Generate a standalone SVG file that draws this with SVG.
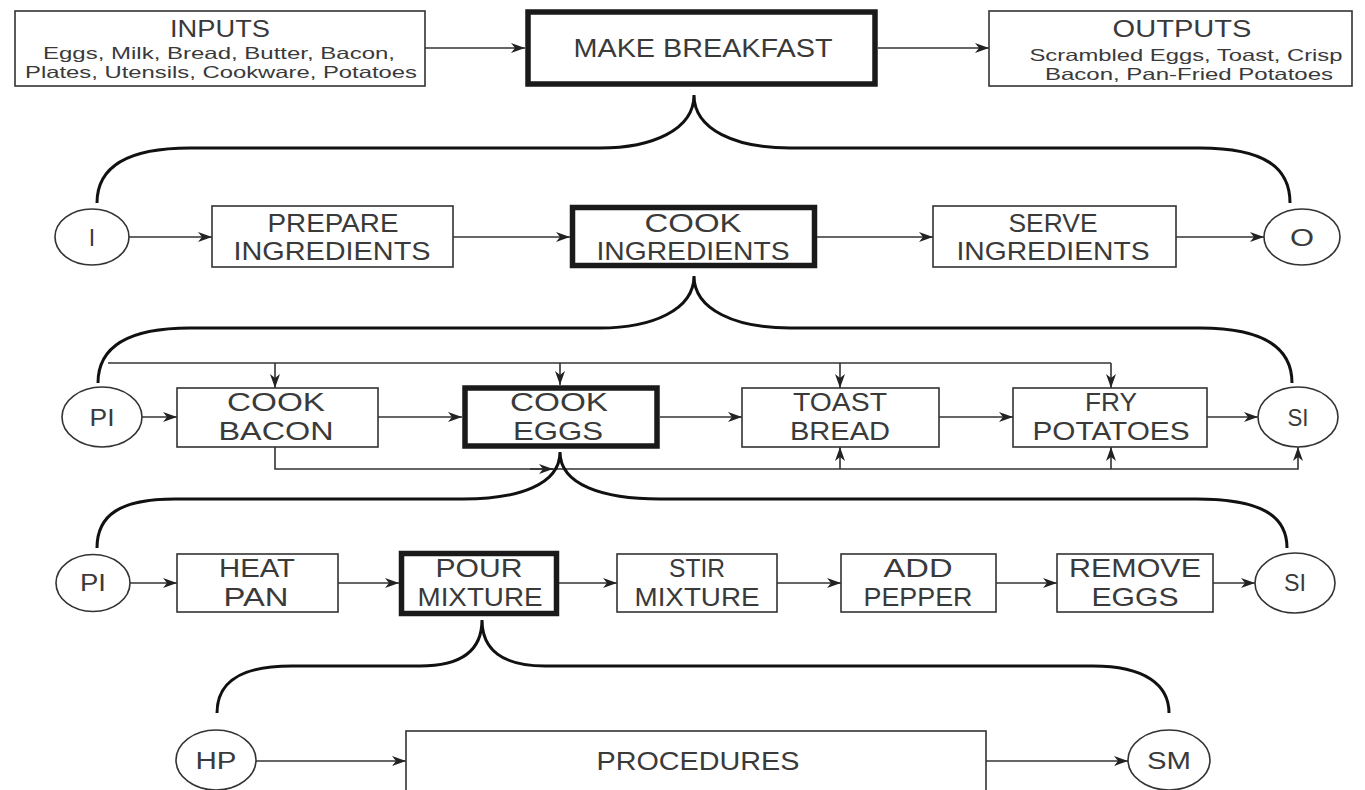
<svg xmlns="http://www.w3.org/2000/svg" width="1365" height="790" viewBox="0 0 1365 790">
<style>
  .bg{fill:#ffffff}
  .box{fill:#ffffff;stroke:#333;stroke-width:1.6}
  .thick{fill:#ffffff;stroke:#1a1a1a;stroke-width:5.5}
  .circ{fill:#ffffff;stroke:#333;stroke-width:1.6}
  .t{font-family:"Liberation Sans",Arial,sans-serif;fill:#3a3a3a;text-anchor:middle}
  .lbl{font-size:25px}
  .big{font-size:26px}
  .hdr{font-size:24px}
  .sm{font-size:16.5px}
  .cl{font-size:23px}
  .ln{fill:none;stroke:#333;stroke-width:1.6}
  .br{fill:none;stroke:#111;stroke-width:3}
</style>
<defs>
  <marker id="ah" viewBox="0 0 14 10" refX="14" refY="5" markerWidth="15" markerHeight="10" markerUnits="userSpaceOnUse" orient="auto">
    <path d="M0,0 L14,5 L0,10 L4,5 Z" fill="#222"/>
  </marker>
</defs>
<rect class="bg" x="0" y="0" width="1365" height="790"/>

<g id="connectors">
  <path class="ln" d="M425,48 L525,48" marker-end="url(#ah)"/>
  <path class="ln" d="M878,48 L989,48" marker-end="url(#ah)"/>
  <path class="ln" d="M129,237 L212,237" marker-end="url(#ah)"/>
  <path class="ln" d="M453,237 L570,237" marker-end="url(#ah)"/>
  <path class="ln" d="M817,237 L933,237" marker-end="url(#ah)"/>
  <path class="ln" d="M1176,237 L1264,237" marker-end="url(#ah)"/>
  <path class="ln" d="M142,417 L177,417" marker-end="url(#ah)"/>
  <path class="ln" d="M378,417 L462,417" marker-end="url(#ah)"/>
  <path class="ln" d="M660,417 L742,417" marker-end="url(#ah)"/>
  <path class="ln" d="M939,417 L1013,417" marker-end="url(#ah)"/>
  <path class="ln" d="M1207,417 L1258,417" marker-end="url(#ah)"/>
  <path class="ln" d="M108,363 L1111,363"/>
  <path class="ln" d="M275,363 L275,388" marker-end="url(#ah)"/>
  <path class="ln" d="M560,363 L560,385" marker-end="url(#ah)"/>
  <path class="ln" d="M840,363 L840,388" marker-end="url(#ah)"/>
  <path class="ln" d="M1111,363 L1111,388" marker-end="url(#ah)"/>
  <path class="ln" d="M275,447 L275,469 L1298,469 L1298,447" marker-end="url(#ah)"/>
  <path class="ln" d="M530,469 L553,469" marker-end="url(#ah)"/>
  <path class="ln" d="M840,469 L840,447" marker-end="url(#ah)"/>
  <path class="ln" d="M1111,469 L1111,447" marker-end="url(#ah)"/>
  <path class="ln" d="M130,583 L177,583" marker-end="url(#ah)"/>
  <path class="ln" d="M338,583 L399,583" marker-end="url(#ah)"/>
  <path class="ln" d="M559,583 L617,583" marker-end="url(#ah)"/>
  <path class="ln" d="M777,583 L841,583" marker-end="url(#ah)"/>
  <path class="ln" d="M996,583 L1057,583" marker-end="url(#ah)"/>
  <path class="ln" d="M1213,583 L1255,583" marker-end="url(#ah)"/>
  <path class="ln" d="M256,761 L406,761" marker-end="url(#ah)"/>
  <path class="ln" d="M986,761 L1128,761" marker-end="url(#ah)"/>
  <path class="br" d="M97,203 C97,168 125,148 190,148 L600,148 C652,148 694,130 694,95 C694,130 736,148 790,148 L1200,148 C1265,148 1290,168 1290,203"/>
  <path class="br" d="M98,383 C98,348 125,328 190,328 L600,328 C652,328 694,310 694,276 C694,310 736,328 790,328 L1200,328 C1265,328 1292,348 1292,383"/>
  <path class="br" d="M97,548 C97,515 120,499 175,499 L463,499 C518,499 560,485 560,452 C560,485 603,499 660,499 L1196,499 C1260,499 1287,515 1287,548"/>
  <path class="br" d="M217,713 C217,682 240,666 292,666 L420,666 C462,666 482,650 482,620 C482,650 503,666 545,666 L1093,666 C1145,666 1169,685 1169,713"/>
</g>

<g id="inputs">
  <rect class="box" x="15" y="11" width="410" height="75"/>
  <text class="t hdr" x="220" y="37" textLength="100" lengthAdjust="spacingAndGlyphs">INPUTS</text>
  <text class="t sm" x="219" y="59" textLength="352" lengthAdjust="spacingAndGlyphs">Eggs, Milk, Bread, Butter, Bacon,</text>
  <text class="t sm" x="221" y="78" textLength="392" lengthAdjust="spacingAndGlyphs">Plates, Utensils, Cookware, Potatoes</text>
</g>
<g id="make-breakfast">
  <rect class="thick" x="528" y="12" width="347" height="72"/>
  <text class="t big" x="703" y="57" textLength="259" lengthAdjust="spacingAndGlyphs">MAKE BREAKFAST</text>
</g>
<g id="outputs">
  <rect class="box" x="989" y="11" width="363" height="75"/>
  <text class="t hdr" x="1182" y="37" textLength="139" lengthAdjust="spacingAndGlyphs">OUTPUTS</text>
  <text class="t sm" x="1186" y="61" textLength="313" lengthAdjust="spacingAndGlyphs">Scrambled Eggs, Toast, Crisp</text>
  <text class="t sm" x="1189" y="80" textLength="288" lengthAdjust="spacingAndGlyphs">Bacon, Pan-Fried Potatoes</text>
</g>

<g id="i-node">
  <ellipse class="circ" cx="92" cy="237" rx="37" ry="28"/>
  <text class="t cl" x="92" y="246">I</text>
</g>
<g id="prepare-ingredients">
  <rect class="box" x="212" y="206" width="241" height="61"/>
  <text class="t lbl" x="333" y="232" textLength="131" lengthAdjust="spacingAndGlyphs">PREPARE</text>
  <text class="t lbl" x="332" y="260" textLength="197" lengthAdjust="spacingAndGlyphs">INGREDIENTS</text>
</g>
<g id="cook-ingredients">
  <rect class="thick" x="572.5" y="207.5" width="242" height="58"/>
  <text class="t lbl" x="693" y="232" textLength="97" lengthAdjust="spacingAndGlyphs">COOK</text>
  <text class="t lbl" x="693" y="260" textLength="193" lengthAdjust="spacingAndGlyphs">INGREDIENTS</text>
</g>
<g id="serve-ingredients">
  <rect class="box" x="933" y="206" width="243" height="61"/>
  <text class="t lbl" x="1053" y="232" textLength="89" lengthAdjust="spacingAndGlyphs">SERVE</text>
  <text class="t lbl" x="1053" y="260" textLength="193" lengthAdjust="spacingAndGlyphs">INGREDIENTS</text>
</g>
<g id="o-node">
  <ellipse class="circ" cx="1302" cy="237" rx="38" ry="28"/>
  <text class="t cl" x="1302" y="246" textLength="24" lengthAdjust="spacingAndGlyphs">O</text>
</g>

<g id="pi-node-1">
  <ellipse class="circ" cx="102" cy="417" rx="40" ry="30"/>
  <text class="t cl" x="102" y="426" textLength="25" lengthAdjust="spacingAndGlyphs">PI</text>
</g>
<g id="cook-bacon">
  <rect class="box" x="177" y="388" width="201" height="59"/>
  <text class="t lbl" x="276" y="411" textLength="98" lengthAdjust="spacingAndGlyphs">COOK</text>
  <text class="t lbl" x="276" y="440" textLength="115" lengthAdjust="spacingAndGlyphs">BACON</text>
</g>
<g id="cook-eggs">
  <rect class="thick" x="465" y="388" width="192" height="58"/>
  <text class="t lbl" x="559" y="411" textLength="98" lengthAdjust="spacingAndGlyphs">COOK</text>
  <text class="t lbl" x="558" y="440" textLength="90" lengthAdjust="spacingAndGlyphs">EGGS</text>
</g>
<g id="toast-bread">
  <rect class="box" x="742" y="388" width="197" height="59"/>
  <text class="t lbl" x="840" y="411" textLength="94" lengthAdjust="spacingAndGlyphs">TOAST</text>
  <text class="t lbl" x="840" y="440" textLength="100" lengthAdjust="spacingAndGlyphs">BREAD</text>
</g>
<g id="fry-potatoes">
  <rect class="box" x="1013" y="388" width="194" height="59"/>
  <text class="t lbl" x="1111" y="411" textLength="52" lengthAdjust="spacingAndGlyphs">FRY</text>
  <text class="t lbl" x="1111" y="440" textLength="157" lengthAdjust="spacingAndGlyphs">POTATOES</text>
</g>
<g id="si-node-1">
  <ellipse class="circ" cx="1298" cy="417" rx="40" ry="30"/>
  <text class="t cl" x="1298" y="426" textLength="21" lengthAdjust="spacingAndGlyphs">SI</text>
</g>

<g id="pi-node-2">
  <ellipse class="circ" cx="93" cy="583" rx="37" ry="28.5"/>
  <text class="t cl" x="93" y="591" textLength="26" lengthAdjust="spacingAndGlyphs">PI</text>
</g>
<g id="heat-pan">
  <rect class="box" x="177" y="554" width="161" height="58"/>
  <text class="t lbl" x="257" y="577" textLength="76" lengthAdjust="spacingAndGlyphs">HEAT</text>
  <text class="t lbl" x="256" y="606" textLength="65" lengthAdjust="spacingAndGlyphs">PAN</text>
</g>
<g id="pour-mixture">
  <rect class="thick" x="401.5" y="553.5" width="155" height="60"/>
  <text class="t lbl" x="479" y="577" textLength="87" lengthAdjust="spacingAndGlyphs">POUR</text>
  <text class="t lbl" x="480" y="606" textLength="125" lengthAdjust="spacingAndGlyphs">MIXTURE</text>
</g>
<g id="stir-mixture">
  <rect class="box" x="617" y="554" width="160" height="58"/>
  <text class="t lbl" x="697" y="577" textLength="56" lengthAdjust="spacingAndGlyphs">STIR</text>
  <text class="t lbl" x="697" y="606" textLength="125" lengthAdjust="spacingAndGlyphs">MIXTURE</text>
</g>
<g id="add-pepper">
  <rect class="box" x="841" y="554" width="155" height="58"/>
  <text class="t lbl" x="918" y="577" textLength="69" lengthAdjust="spacingAndGlyphs">ADD</text>
  <text class="t lbl" x="918" y="606" textLength="109" lengthAdjust="spacingAndGlyphs">PEPPER</text>
</g>
<g id="remove-eggs">
  <rect class="box" x="1057" y="554" width="156" height="58"/>
  <text class="t lbl" x="1135" y="577" textLength="132" lengthAdjust="spacingAndGlyphs">REMOVE</text>
  <text class="t lbl" x="1135" y="606" textLength="87" lengthAdjust="spacingAndGlyphs">EGGS</text>
</g>
<g id="si-node-2">
  <ellipse class="circ" cx="1295" cy="583" rx="40" ry="30"/>
  <text class="t cl" x="1295" y="591" textLength="22" lengthAdjust="spacingAndGlyphs">SI</text>
</g>

<g id="hp-node">
  <ellipse class="circ" cx="216" cy="760" rx="40" ry="30"/>
  <text class="t cl" x="216" y="769" textLength="41" lengthAdjust="spacingAndGlyphs">HP</text>
</g>
<g id="procedures">
  <rect class="box" x="406" y="731" width="580" height="70"/>
  <text class="t lbl" x="698" y="770" textLength="203" lengthAdjust="spacingAndGlyphs">PROCEDURES</text>
</g>
<g id="sm-node">
  <ellipse class="circ" cx="1169" cy="760" rx="41" ry="30"/>
  <text class="t cl" x="1169" y="769" textLength="44" lengthAdjust="spacingAndGlyphs">SM</text>
</g>
</svg>
